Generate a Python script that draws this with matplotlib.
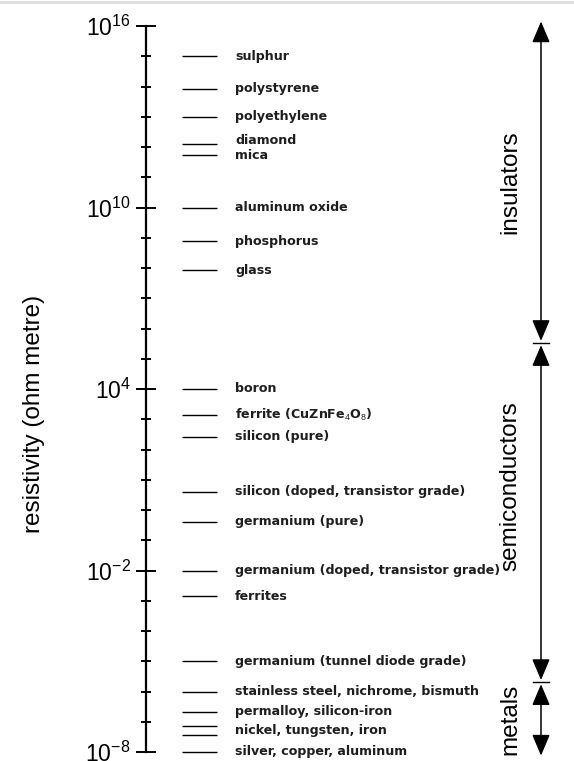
import numpy as np
import matplotlib.pyplot as plt
from matplotlib.patches import FancyArrowPatch, ArrowStyle
from matplotlib.ticker import FixedLocator, NullFormatter

# --- Data (resistivity in ohm metre) ---
materials = [
    "sulphur", "polystyrene", "polyethylene", "diamond", "mica",
    "aluminum oxide", "phosphorus", "glass", "boron",
    "ferrite (CuZnFe$_4$O$_8$)", "silicon (pure)",
    "silicon (doped, transistor grade)", "germanium (pure)",
    "germanium (doped, transistor grade)", "ferrites",
    "germanium (tunnel diode grade)", "stainless steel, nichrome, bismuth",
    "permalloy, silicon-iron", "nickel, tungsten, iron",
    "silver, copper, aluminum",
]
# one or more marks per label
resistivity = [
    [1e15], [10**13.93], [1e13], [10**12.1], [10**11.75],
    [1e10], [10**8.88], [10**7.92], [1e4],
    [10**3.13], [10**2.42],
    [10**0.61], [10**-0.39],
    [1e-2], [10**-2.85],
    [1e-5], [1e-6],
    [10**-6.67], [10**-7.13, 10**-7.43],
    [1e-8],
]
classes = ["insulators", "semiconductors", "metals"]
class_bounds = [10**16.15, 10**5.52, 10**-5.69, 10**-8.12]
major_ticks = [1e-8, 1e-2, 1e4, 1e10, 1e16]
tick_labels = ["$10^{-8}$", "$10^{-2}$", "$10^{4}$", "$10^{10}$", "$10^{16}$"]

# layout nudges only
class_label_shift = [0.0, 0.88, 0.0]     # decades along the arrow
text_nudge = {"diamond": 2.5, "mica": -1.0}  # points, vertical

plt.rcParams['mathtext.fontset'] = 'custom'
plt.rcParams['mathtext.rm'] = 'Liberation Sans'
plt.rcParams['mathtext.it'] = 'Liberation Sans'
plt.rcParams['mathtext.bf'] = 'DejaVu Sans:bold'

W, H = 574, 761
fig = plt.figure(figsize=(W / 100, H / 100), dpi=100)
ax = fig.add_axes([0, 1 - 752 / H, 1, (752 - 26) / H])
ax.set_yscale('log')
ax.set_ylim(1e-8, 1e16)
ax.set_xlim(0, W)

# --- Axis spine with ticks ---
for s in ['top', 'right', 'bottom']:
    ax.spines[s].set_visible(False)
ax.spines['left'].set_position(('data', 146))
ax.spines['left'].set_linewidth(1.6)
ax.set_xticks([])
ax.yaxis.set_major_locator(FixedLocator(major_ticks))
ax.set_yticklabels(tick_labels)
ax.yaxis.set_minor_locator(FixedLocator([10.0**k for k in range(-8, 17)]))
ax.yaxis.set_minor_formatter(NullFormatter())
ax.tick_params(axis='y', which='major', direction='inout', length=14,
               width=1.4, pad=4, labelsize=16.5)
ax.tick_params(axis='y', which='minor', direction='inout', length=7,
               width=1.4)

# --- Material marks and labels ---
for name, vals in zip(materials, resistivity):
    for v in vals:
        ax.plot([182, 217], [v, v], color='black', lw=1.0,
                solid_capstyle='butt', clip_on=False)
    ymid = 10 ** np.mean(np.log10(vals))
    ax.annotate(name, xy=(235, ymid), xytext=(0, text_nudge.get(name, 0)),
                textcoords='offset points', va='center', ha='left',
                fontsize=9.1, family='DejaVu Sans', weight='bold',
                color='#1e1e1e')

# --- Class arrows on the right ---
style = ArrowStyle("<|-|>", head_length=1.3, head_width=0.55)
for i, cls in enumerate(classes):
    top, bot = class_bounds[i], class_bounds[i + 1]
    arr = FancyArrowPatch((541, top), (541, bot), arrowstyle=style,
                          mutation_scale=10, color='black', lw=1.1,
                          shrinkA=0 if i == 0 else 1.5,
                          shrinkB=0 if i == len(classes) - 1 else 1.5,
                          clip_on=False)
    ax.add_patch(arr)
    ymid = 10 ** ((np.log10(top) + np.log10(bot)) / 2 + class_label_shift[i])
    ax.text(510, ymid, cls, rotation=90, va='center', ha='center',
            fontsize=17.5, family='Liberation Sans')
for b in class_bounds[1:-1]:
    ax.plot([533, 549], [b, b], color='black', lw=1.0)

fig.text(34 / W, 1 - 414 / H, "resistivity (ohm metre)", rotation=90,
         va='center', ha='center', fontsize=17.5, family='Liberation Sans')

# faint border at the top of the original scan
fig.add_artist(plt.Line2D([0, 1], [1 - 2 / H, 1 - 2 / H], color='#dddddd',
                          lw=2, transform=fig.transFigure))

fig.savefig("out.png", dpi=100)
